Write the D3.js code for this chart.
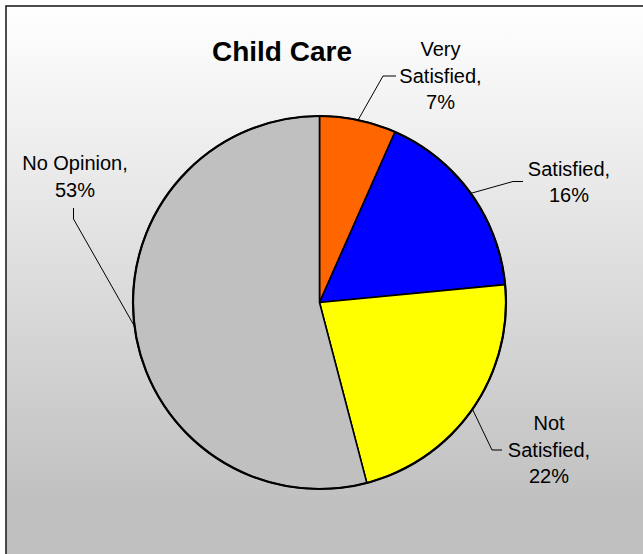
<!DOCTYPE html>
<html><head><meta charset="utf-8">
<script src="https://cdn.jsdelivr.net/npm/d3@7"></script>
<style>html,body{margin:0;padding:0;background:#fff;}svg{display:block;}</style>
</head><body>
<script>
const categories = ["Very Satisfied", "Satisfied", "Not Satisfied", "No Opinion"];
// slice sizes
const values = [6.5, 16.5, 22, 53];
// percentage labels as printed on the chart
const percentLabels = ["7%", "16%", "22%", "53%"];
const labelLines = [["Very", "Satisfied,"], ["Satisfied,"], ["Not", "Satisfied,"], ["No Opinion,"]];
const colors = ["#FF6600", "#0000FF", "#FFFF00", "#C0C0C0"];
const title = "Child Care";

const W = 643, H = 554;
const cx = 319.5, cy = 302.5, R = 186.5;
// label layout: text centre x, first baseline y, leader elbow and end
const labelLayout = [
  {x: 440.5, y: 56, elbow: [383, 76], end: [396, 76]},
  {x: 569, y: 175.7, elbow: [513, 181.5], end: [523, 181.5]},
  {x: 549, y: 430, elbow: [492, 450], end: [502, 450]},
  {x: 75, y: 170, elbow: [73.5, 219], end: [73.5, 208]}
];
const lineH = 26.7;

const svg = d3.select("body").append("svg").attr("width", W).attr("height", H);
const defs = svg.append("defs");
const grad = defs.append("linearGradient").attr("id", "bg")
  .attr("gradientUnits", "userSpaceOnUse").attr("x1", 0).attr("y1", 6).attr("x2", 0).attr("y2", 505);
grad.append("stop").attr("offset", 0).attr("stop-color", "#FFFFFF");
grad.append("stop").attr("offset", 1).attr("stop-color", "#C0C0C0");

svg.append("rect").attr("x", 0).attr("y", 0).attr("width", W).attr("height", H).attr("fill", "#fff");
svg.append("rect").attr("x", 6).attr("y", 6).attr("width", 700).attr("height", 700)
  .attr("fill", "url(#bg)").attr("stroke", "#222").attr("stroke-width", 1.6);

const pie = d3.pie().value(d => d).sort(null);
const arcs = pie(values);
const arc = d3.arc().innerRadius(0).outerRadius(R);
const g = svg.append("g").attr("transform", `translate(${cx},${cy})`);
g.selectAll("path").data(arcs).join("path")
  .attr("d", arc).attr("fill", (d, i) => colors[i])
  .attr("stroke", "#000").attr("stroke-width", 1.6).attr("stroke-linejoin", "round");
g.append("circle").attr("r", R).attr("fill", "none").attr("stroke", "#000").attr("stroke-width", 2.2);

// leader lines and labels
arcs.forEach((d, i) => {
  const a = (d.startAngle + d.endAngle) / 2;
  const ax = cx + R * Math.sin(a), ay = cy - R * Math.cos(a);
  const L = labelLayout[i];
  svg.append("polyline")
    .attr("points", `${ax},${ay} ${L.elbow[0]},${L.elbow[1]} ${L.end[0]},${L.end[1]}`)
    .attr("fill", "none").attr("stroke", "#000").attr("stroke-width", 1);
  const t = svg.append("text").attr("text-anchor", "middle")
    .attr("font-family", "'Liberation Sans', Arial, sans-serif").attr("font-size", 20).attr("fill", "#000");
  labelLines[i].concat([percentLabels[i]]).forEach((s, k) => {
    t.append("tspan").attr("x", L.x).attr("y", L.y + k * lineH).text(s);
  });
});

svg.append("text").attr("x", 282).attr("y", 61).attr("text-anchor", "middle")
  .attr("font-family", "'Liberation Sans', Arial, sans-serif").attr("font-weight", "bold")
  .attr("font-size", 28).attr("fill", "#000").text(title);
</script>
</body></html>
